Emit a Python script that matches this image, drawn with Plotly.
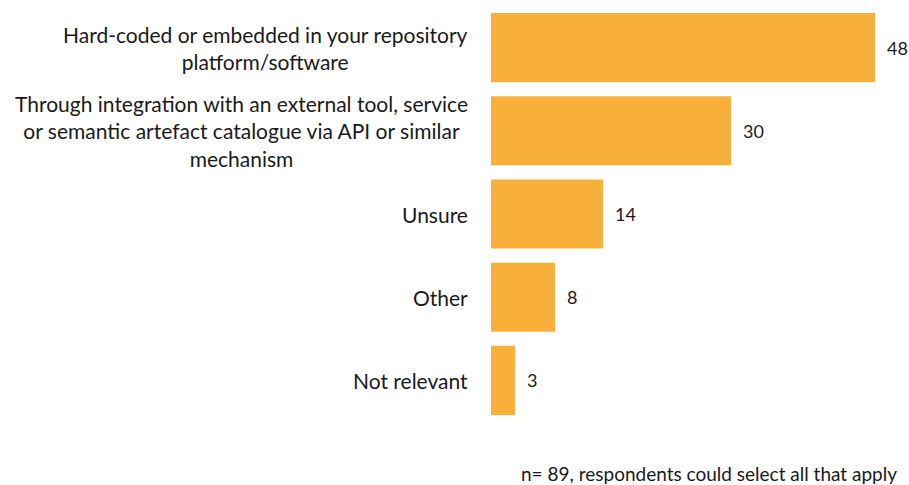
import plotly.graph_objects as go

categories = [
    "Hard-coded or embedded in your repository<br>platform/software",
    "Through integration with an external tool, service<br>or semantic artefact catalogue via API or similar<br>mechanism",
    "Unsure",
    "Other",
    "Not relevant",
]
values = [48, 30, 14, 8, 3]
footnote = "n= 89, respondents could select all that apply"

FONT = "Lato, Open Sans, sans-serif"
BAR = "#F9B03B"
TXT = "#1a1a1a"

fig = go.Figure(go.Bar(
    x=values, y=categories, orientation="h",
    marker=dict(color=BAR, line=dict(width=0)),
    hoverinfo="skip",
))

for c, v in zip(categories, values):
    fig.add_annotation(
        x=-0.05, xref="paper", y=c, yref="y",
        text=c, showarrow=False, xanchor="right", align="center",
        font=dict(family=FONT, size=21, color=TXT),
    )
    fig.add_annotation(
        x=v, xref="x", y=c, yref="y", xshift=10,
        text=str(v), showarrow=False, xanchor="left",
        font=dict(family=FONT, size=18, color=TXT),
    )

fig.add_annotation(
    x=1.0, xref="paper", y=0, yref="paper", yshift=-65, xshift=-8,
    text=footnote, showarrow=False, xanchor="right", yanchor="bottom",
    font=dict(family=FONT, size=19, color=TXT),
)

fig.update_layout(
    width=909, height=485,
    margin=dict(l=491, r=2, t=6, b=63),
    paper_bgcolor="white", plot_bgcolor="white",
    bargap=0.17, showlegend=False,
    xaxis=dict(range=[0, 52], visible=False, fixedrange=True, automargin=False),
    yaxis=dict(autorange="reversed", showticklabels=False, showgrid=False,
               zeroline=False, showline=False, ticks="", automargin=False,
               fixedrange=True),
)

fig.write_html("out.html", config={"displayModeBar": False},
               post_script="document.body.style.margin='0';document.body.style.padding='0';")
